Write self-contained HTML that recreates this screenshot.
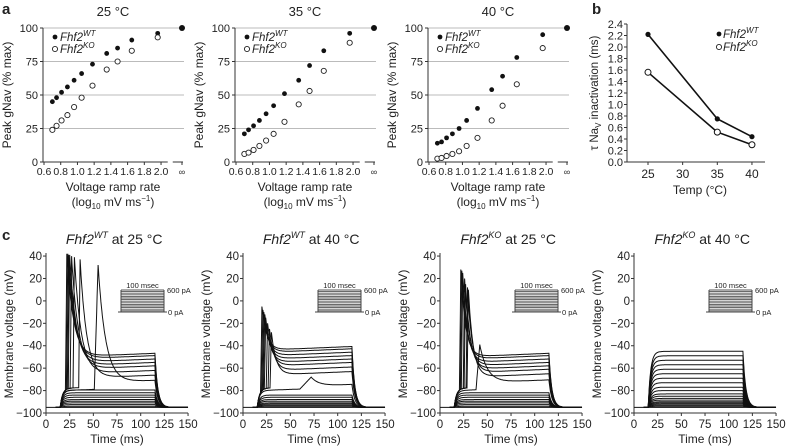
<!DOCTYPE html>
<html><head><meta charset="utf-8"><style>
html,body{margin:0;padding:0;background:#fff}
svg{display:block;font-family:"Liberation Sans",sans-serif}
</style></head><body>
<svg id="fig" width="788" height="446" viewBox="0 0 788 446"></svg>
<script>
// Panel a data
const rampRates=[0.7,0.75,0.81,0.88,0.96,1.05,1.18,1.35,1.48,1.65,1.96,"inf"];
const xTickLabels=["0.6","0.8","1.0","1.2","1.4","1.6","1.8","2.0"];
const yTicksA=[0,25,50,75,100];
const wt25=[45,48,52,56,61,66,73,81,85,91,96,100];
const ko25=[24,27,31,35,41,48,57,69,75,83,93];
const wt35=[21,24,27,31,36,42,51,61,72,83,96,100];
const ko35=[6,7,9,12,16,21,30,43,53,68,89];
const wt40=[14,15,18,21,25,31,40,54,64,78,95,100];
const ko40=[2.5,3,4.5,6,8,12,18,31,42,58,85];
// Panel b data
const temps=[25,35,40];
const tauWT=[2.22,0.75,0.44];
const tauKO=[1.56,0.52,0.30];
const yTicksB=[0,0.2,0.4,0.6,0.8,1.0,1.2,1.4,1.6,1.8,2.0,2.2,2.4];
const xTicksB=[25,30,35,40];
// Panel c data
const tTicks=[0,25,50,75,100,125,150];
const vTicks=[-100,-80,-60,-40,-20,0,20,40];
const sub1=[-94,-92.5,-91,-89.5,-88,-86,-84,-82,-79.5];
const spkT1=[22,23,24,25,27,30,36,55];
const spkV1=[42,42,41,41,40,39,37,32];
const spkP1=[-50,-52,-55,-58,-61,-65,-69,-73];
const sub2=[-94,-93,-92,-91,-89.5,-88,-86,-84];
const spkT2=[20,21,22,23,24,26,28,30,72];
const spkV2=[-5,-8,-10,-12,-15,-20,-25,-28,-68];
const spkP2=[-44,-46,-49,-52,-55,-58,-62,-66,-76];
const sub3=[-94,-92.5,-91,-89.5,-88,-86,-84,-82];
const spkT3=[22,23,24,26,27,29,30,42];
const spkV3=[28,27,25,20,15,12,10,-39];
const spkP3=[-50,-52,-55,-58,-61,-64,-68,-73];
const sub4=[-94,-93,-92,-91,-90,-88.5,-87,-85,-83,-80,-77,-73,-69,-65,-61,-57,-53,-49,-45];

const svg=document.getElementById('fig');
const NS='http://www.w3.org/2000/svg';
function mk(tag,at,parent){const e=document.createElementNS(NS,tag);for(const k in at)e.setAttribute(k,at[k]);(parent||svg).appendChild(e);return e;}
function txt(s,x,y,size,anchor,parent,extra){const e=mk('text',Object.assign({x:x,y:y,'font-size':size,'text-anchor':anchor||'middle',fill:'#222'},extra||{}),parent);e.innerHTML=s;return e;}

let l;
l=txt('a',2,14,15,'start',null,{'font-weight':'bold'});
l=txt('b',592,14,15,'start',null,{'font-weight':'bold'});
l=txt('c',2,240,15,'start',null,{'font-weight':'bold'});

function panelA(ax,title,wt,ko,idx){
  const g=mk('g',{});
  
  
  const xs=v=>v==="inf"?ax+139:ax+1+(v-0.6)*83.6;
  const ys=v=>162-v*1.34;
  yTicksA.forEach(v=>{ if(v>0) mk('line',{x1:ax,x2:ax+141,y1:ys(v),y2:ys(v),stroke:'#bbb','stroke-width':1},g);
    mk('line',{x1:ax-3,x2:ax,y1:ys(v),y2:ys(v),stroke:'#333'},g);
    txt(String(v),ax-5,ys(v)+4,11,'end',g);});
  mk('line',{x1:ax,x2:ax,y1:ys(100),y2:ys(0),stroke:'#333'},g);
  mk('line',{x1:ax,x2:xs(2.08),y1:162,y2:162,stroke:'#333'},g);
  mk('line',{x1:xs(2.14),x2:ax+140,y1:162,y2:162,stroke:'#333'},g);
  xTickLabels.forEach(s=>{const v=parseFloat(s);mk('line',{x1:xs(v),x2:xs(v),y1:162,y2:165,stroke:'#333'},g);txt(s,xs(v),175,10.5,'middle',g);});
  mk('line',{x1:ax+139,x2:ax+139,y1:162,y2:165,stroke:'#333'},g);
  txt('∞',ax+139,175,9,'middle',g);
  txt(title,ax+70,16,13,'middle',g);
  txt('Peak gNav (% max)',0,0,12,'middle',g,{transform:`translate(${ax-32},95) rotate(-90)`});
  txt('Voltage ramp rate',ax+70,191,12,'middle',g);
  txt('(log<tspan font-size="8" dy="3">10</tspan><tspan dy="-3"> mV ms</tspan><tspan font-size="8" dy="-5">−1</tspan><tspan dy="5">)</tspan>',ax+70,206,12,'middle',g);
  wt.forEach((v,i)=>{const c=mk('circle',{cx:xs(rampRates[i]),cy:ys(v),r:i==11?3:2.4,fill:'#111'},g);});
  ko.forEach((v,i)=>{const c=mk('circle',{cx:xs(rampRates[i]),cy:ys(v),r:2.6,fill:'#fff',stroke:'#222','stroke-width':0.9},g);});
  const lg=mk('g',{},g);
  mk('circle',{cx:ax+12,cy:37,r:2.4,fill:'#111'},lg);
  txt('<tspan font-style="italic">Fhf2</tspan><tspan font-size="8" dy="-5" font-style="italic">WT</tspan>',ax+17,41,11.5,'start',lg);
  mk('circle',{cx:ax+12,cy:49,r:2.6,fill:'#fff',stroke:'#222','stroke-width':0.9},lg);
  txt('<tspan font-style="italic">Fhf2</tspan><tspan font-size="8" dy="-5" font-style="italic">KO</tspan>',ax+17,53,11.5,'start',lg);
}
panelA(43,'25 °C',wt25,ko25,1);
panelA(235,'35 °C',wt35,ko35,2);
panelA(428,'40 °C',wt40,ko40,3);

(function(){
  const g=mk('g',{});
  const ax=627;const ys=v=>162-v*57.5;const xs=t=>648+(t-25)*6.93;
  mk('line',{x1:ax,x2:ax,y1:ys(2.4),y2:162,stroke:'#333'},g);
  mk('line',{x1:ax,x2:765,y1:162,y2:162,stroke:'#333'},g);
  yTicksB.forEach(v=>{mk('line',{x1:ax-3,x2:ax,y1:ys(v),y2:ys(v),stroke:'#333'},g);txt(v.toFixed(1),ax-4,ys(v)+4,11,'end',g);});
  xTicksB.forEach(t=>{mk('line',{x1:xs(t),x2:xs(t),y1:162,y2:165,stroke:'#333'},g);txt(String(t),xs(t),178,12,'middle',g);});
  txt('Temp (°C)',700,194,12,'middle',g);
  txt('τ Na<tspan font-size="8" dy="3">V</tspan><tspan dy="-3"> inactivation (ms)</tspan>',0,0,11.5,'middle',g,{transform:'translate(598,93) rotate(-90)'});
  const lw=mk('polyline',{points:temps.map((t,i)=>xs(t)+','+ys(tauWT[i])).join(' '),fill:'none',stroke:'#111','stroke-width':1.6},g);
  
  const lk=mk('polyline',{points:temps.map((t,i)=>xs(t)+','+ys(tauKO[i])).join(' '),fill:'none',stroke:'#111','stroke-width':1.6},g);
  
  temps.forEach((t,i)=>{const c=mk('circle',{cx:xs(t),cy:ys(tauWT[i]),r:2.6,fill:'#111'},g);});
  temps.forEach((t,i)=>{const c=mk('circle',{cx:xs(t),cy:ys(tauKO[i]),r:3,fill:'#fff',stroke:'#111','stroke-width':1},g);});
  const lg=mk('g',{},g);
  mk('circle',{cx:719,cy:34,r:2.4,fill:'#111'},lg);
  txt('<tspan font-style="italic">Fhf2</tspan><tspan font-size="8" dy="-5" font-style="italic">WT</tspan>',723,38,11.5,'start',lg);
  mk('circle',{cx:719,cy:47,r:2.6,fill:'#fff',stroke:'#222','stroke-width':0.9},lg);
  txt('<tspan font-style="italic">Fhf2</tspan><tspan font-size="8" dy="-5" font-style="italic">KO</tspan>',723,51,11.5,'start',lg);
})();

function voltageAt(t,p,sp){
  let v;
  if(t<15) return -95;
  if(t<=115){
    if(!sp){ v=p+(-95-p)*Math.exp(-(t-15)/2.5); }
    else{
      const rw=sp.rw;
      if(t<sp.t-rw){ v=sp.pre+(-95-sp.pre)*Math.exp(-(t-15)/2.5)+(t-15)*0.03; }
      else if(t<sp.t){ const v0=sp.pre+(-95-sp.pre)*Math.exp(-(sp.t-rw-15)/2.5)+(sp.t-rw-15)*0.03; v=v0+(sp.v-v0)*(t-(sp.t-rw))/rw; }
      else { v=p+(sp.v-p)*Math.exp(-(t-sp.t)/sp.tau)+(t-sp.t)*0.035; }
    }
    return v;
  }
  const ve=voltageAt(115,p,sp);
  return -95+(ve+95)*Math.exp(-(t-115)/3);
}
function panelC(ax,title,subs,sT,sV,sP,tau,idx,labelSup){
  const g=mk('g',{});
  const ys=v=>413-(v+100)*1.121;const xs=t=>ax+t*0.947;
  mk('line',{x1:ax,x2:ax,y1:ys(40)-3,y2:413,stroke:'#333'},g);
  mk('line',{x1:ax,x2:xs(150),y1:413,y2:413,stroke:'#333'},g);
  vTicks.forEach(v=>{mk('line',{x1:ax-3,x2:ax,y1:ys(v),y2:ys(v),stroke:'#333'},g);txt(v<0?'−'+(-v):String(v),ax-4,ys(v)+4,11.5,'end',g);});
  tTicks.forEach(t=>{mk('line',{x1:xs(t),x2:xs(t),y1:413,y2:416,stroke:'#333'},g);txt(String(t),xs(t),428,11.5,'middle',g);});
  txt('Time (ms)',xs(75),443,12,'middle',g);
  txt('Membrane voltage (mV)',0,0,12,'middle',g,{transform:`translate(${ax-33},334) rotate(-90)`});
  txt(`<tspan font-style="italic">Fhf2</tspan><tspan font-size="9" dy="-6" font-style="italic">${labelSup}</tspan><tspan dy="6">${title}</tspan>`,xs(72),244,14,'middle',g);
  const ins=mk('g',{},g);
  const x0=ax+75,x1=ax+118;
  for(let k=0;k<14;k++){const y=290+k*1.6;mk('line',{x1:x0,x2:x1,y1:y,y2:y,stroke:'#555','stroke-width':0.9},ins);}
  mk('line',{x1:x0-3,x2:x1+3,y1:312,y2:312,stroke:'#444'},ins);
  mk('line',{x1:x0,x2:x0,y1:290,y2:312,stroke:'#444'},ins);
  mk('line',{x1:x1,x2:x1,y1:290,y2:312,stroke:'#444'},ins);
  txt('100 msec',(x0+x1)/2,288,7.5,'middle',ins);
  txt('600 pA',x1+3,293,7.5,'start',ins);
  txt('0 pA',x1+4,315,7.5,'start',ins);
  mk('line',{x1:xs(0),x2:xs(150),y1:ys(-95),y2:ys(-95),stroke:'#111','stroke-width':1},g);
  const draw=(p,sp)=>{let d='';for(let t=10;t<=150;t+=0.5){d+=(t===10?'M':'L')+xs(t).toFixed(1)+','+ys(voltageAt(t,p,sp)).toFixed(1);}
    const pth=mk('path',{d:d,fill:'none',stroke:'#111','stroke-width':1},g);
    };
  subs.forEach(p=>draw(p,null));
  sT.forEach((t,i)=>{const slow=(sV[i]<-40&&t>40)||t>40;draw(sP[i],{t:t,v:sV[i],tau:slow?8:tau,pre:slow?-80:-78,rw:slow?(sV[i]<-60?12:4):1.5});});
}
panelC(46,' at 25 °C',sub1,spkT1,spkV1,spkP1,7,1,'WT');
panelC(243,' at 40 °C',sub2,spkT2,spkV2,spkP2,5,2,'WT');
panelC(440,' at 25 °C',sub3,spkT3,spkV3,spkP3,5,3,'KO');
panelC(634,' at 40 °C',sub4,[],[],[],5,4,'KO');
</script>
</body></html>
